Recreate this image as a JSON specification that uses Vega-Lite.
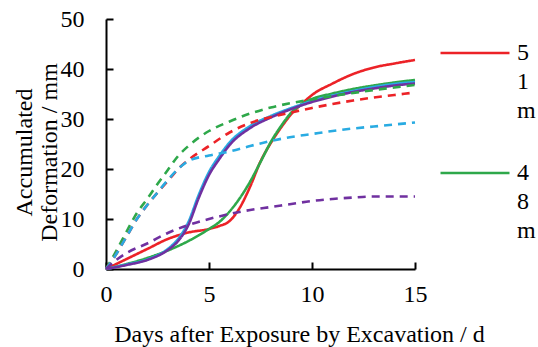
{
  "$schema": "https://vega.github.io/schema/vega-lite/v6.json",
  "width": 309,
  "height": 250,
  "autosize": {"type": "none"},
  "padding": {"left": 106, "top": 19, "right": 123, "bottom": 78},
  "background": "white",
  "config": {
    "view": {"stroke": null},
    "font": "Liberation Serif",
    "axis": {
      "labelFont": "Liberation Serif",
      "titleFont": "Liberation Serif",
      "labelFontSize": 24,
      "titleFontSize": 24,
      "labelColor": "#000000",
      "titleColor": "#000000",
      "titleFontWeight": "normal",
      "domainColor": "#000000",
      "domainWidth": 2,
      "tickColor": "#000000",
      "tickWidth": 2,
      "grid": false
    },
    "legend": {
      "labelFont": "Liberation Serif",
      "labelFontSize": 24,
      "labelColor": "#000000"
    }
  },
  "data": {
    "values": [
      {"x": 0, "y": 0, "s": "51m", "t": "solid"},
      {"x": 1, "y": 2.0, "s": "51m", "t": "solid"},
      {"x": 2, "y": 4.0, "s": "51m", "t": "solid"},
      {"x": 3, "y": 6.0, "s": "51m", "t": "solid"},
      {"x": 4, "y": 7.3, "s": "51m", "t": "solid"},
      {"x": 5, "y": 8.0, "s": "51m", "t": "solid"},
      {"x": 5.5, "y": 8.6, "s": "51m", "t": "solid"},
      {"x": 6, "y": 9.6, "s": "51m", "t": "solid"},
      {"x": 6.5, "y": 12.3, "s": "51m", "t": "solid"},
      {"x": 7, "y": 16.5, "s": "51m", "t": "solid"},
      {"x": 7.5, "y": 21.5, "s": "51m", "t": "solid"},
      {"x": 8, "y": 25.2, "s": "51m", "t": "solid"},
      {"x": 8.5, "y": 28.3, "s": "51m", "t": "solid"},
      {"x": 9, "y": 31.0, "s": "51m", "t": "solid"},
      {"x": 9.5, "y": 33.0, "s": "51m", "t": "solid"},
      {"x": 10, "y": 34.8, "s": "51m", "t": "solid"},
      {"x": 11, "y": 37.1, "s": "51m", "t": "solid"},
      {"x": 12, "y": 39.0, "s": "51m", "t": "solid"},
      {"x": 13, "y": 40.3, "s": "51m", "t": "solid"},
      {"x": 14, "y": 41.1, "s": "51m", "t": "solid"},
      {"x": 15, "y": 41.8, "s": "51m", "t": "solid"},

      {"x": 0, "y": 0, "s": "48m", "t": "solid"},
      {"x": 1, "y": 1.0, "s": "48m", "t": "solid"},
      {"x": 2, "y": 2.2, "s": "48m", "t": "solid"},
      {"x": 3, "y": 3.7, "s": "48m", "t": "solid"},
      {"x": 4, "y": 5.6, "s": "48m", "t": "solid"},
      {"x": 5, "y": 8.0, "s": "48m", "t": "solid"},
      {"x": 5.5, "y": 9.4, "s": "48m", "t": "solid"},
      {"x": 6, "y": 11.5, "s": "48m", "t": "solid"},
      {"x": 6.5, "y": 14.2, "s": "48m", "t": "solid"},
      {"x": 7, "y": 17.5, "s": "48m", "t": "solid"},
      {"x": 7.5, "y": 21.4, "s": "48m", "t": "solid"},
      {"x": 8, "y": 25.4, "s": "48m", "t": "solid"},
      {"x": 8.5, "y": 28.6, "s": "48m", "t": "solid"},
      {"x": 9, "y": 31.3, "s": "48m", "t": "solid"},
      {"x": 9.5, "y": 32.9, "s": "48m", "t": "solid"},
      {"x": 10, "y": 34.0, "s": "48m", "t": "solid"},
      {"x": 11, "y": 35.1, "s": "48m", "t": "solid"},
      {"x": 12, "y": 36.0, "s": "48m", "t": "solid"},
      {"x": 13, "y": 36.7, "s": "48m", "t": "solid"},
      {"x": 14, "y": 37.3, "s": "48m", "t": "solid"},
      {"x": 15, "y": 37.8, "s": "48m", "t": "solid"},

      {"x": 0, "y": 0, "s": "45m", "t": "solid"},
      {"x": 1, "y": 0.9, "s": "45m", "t": "solid"},
      {"x": 2, "y": 1.9, "s": "45m", "t": "solid"},
      {"x": 3, "y": 4.0, "s": "45m", "t": "solid"},
      {"x": 3.5, "y": 6.0, "s": "45m", "t": "solid"},
      {"x": 4, "y": 9.4, "s": "45m", "t": "solid"},
      {"x": 4.5, "y": 14.8, "s": "45m", "t": "solid"},
      {"x": 5, "y": 19.4, "s": "45m", "t": "solid"},
      {"x": 5.5, "y": 22.6, "s": "45m", "t": "solid"},
      {"x": 6, "y": 25.3, "s": "45m", "t": "solid"},
      {"x": 7, "y": 28.6, "s": "45m", "t": "solid"},
      {"x": 8, "y": 30.6, "s": "45m", "t": "solid"},
      {"x": 9, "y": 32.2, "s": "45m", "t": "solid"},
      {"x": 10, "y": 33.6, "s": "45m", "t": "solid"},
      {"x": 11, "y": 34.7, "s": "45m", "t": "solid"},
      {"x": 12, "y": 35.6, "s": "45m", "t": "solid"},
      {"x": 13, "y": 36.4, "s": "45m", "t": "solid"},
      {"x": 14, "y": 37.0, "s": "45m", "t": "solid"},
      {"x": 15, "y": 37.4, "s": "45m", "t": "solid"},

      {"x": 0, "y": 0, "s": "42m", "t": "solid"},
      {"x": 1, "y": 0.8, "s": "42m", "t": "solid"},
      {"x": 2, "y": 1.8, "s": "42m", "t": "solid"},
      {"x": 3, "y": 3.8, "s": "42m", "t": "solid"},
      {"x": 3.5, "y": 5.6, "s": "42m", "t": "solid"},
      {"x": 4, "y": 8.8, "s": "42m", "t": "solid"},
      {"x": 4.5, "y": 14.2, "s": "42m", "t": "solid"},
      {"x": 5, "y": 18.8, "s": "42m", "t": "solid"},
      {"x": 5.5, "y": 22.0, "s": "42m", "t": "solid"},
      {"x": 6, "y": 24.8, "s": "42m", "t": "solid"},
      {"x": 7, "y": 28.2, "s": "42m", "t": "solid"},
      {"x": 8, "y": 30.3, "s": "42m", "t": "solid"},
      {"x": 9, "y": 32.0, "s": "42m", "t": "solid"},
      {"x": 10, "y": 33.4, "s": "42m", "t": "solid"},
      {"x": 11, "y": 34.5, "s": "42m", "t": "solid"},
      {"x": 12, "y": 35.4, "s": "42m", "t": "solid"},
      {"x": 13, "y": 36.1, "s": "42m", "t": "solid"},
      {"x": 14, "y": 36.7, "s": "42m", "t": "solid"},
      {"x": 15, "y": 37.1, "s": "42m", "t": "solid"},

      {"x": 0, "y": 0, "s": "48m sim", "t": "dashed"},
      {"x": 0.5, "y": 3.6, "s": "48m sim", "t": "dashed"},
      {"x": 1, "y": 7.5, "s": "48m sim", "t": "dashed"},
      {"x": 1.5, "y": 11.2, "s": "48m sim", "t": "dashed"},
      {"x": 2, "y": 14.0, "s": "48m sim", "t": "dashed"},
      {"x": 2.5, "y": 17.0, "s": "48m sim", "t": "dashed"},
      {"x": 3, "y": 19.8, "s": "48m sim", "t": "dashed"},
      {"x": 3.5, "y": 22.6, "s": "48m sim", "t": "dashed"},
      {"x": 4, "y": 24.6, "s": "48m sim", "t": "dashed"},
      {"x": 5, "y": 27.6, "s": "48m sim", "t": "dashed"},
      {"x": 6, "y": 29.5, "s": "48m sim", "t": "dashed"},
      {"x": 7, "y": 31.1, "s": "48m sim", "t": "dashed"},
      {"x": 8, "y": 32.3, "s": "48m sim", "t": "dashed"},
      {"x": 9, "y": 33.2, "s": "48m sim", "t": "dashed"},
      {"x": 10, "y": 33.9, "s": "48m sim", "t": "dashed"},
      {"x": 11, "y": 34.6, "s": "48m sim", "t": "dashed"},
      {"x": 12, "y": 35.2, "s": "48m sim", "t": "dashed"},
      {"x": 13, "y": 35.8, "s": "48m sim", "t": "dashed"},
      {"x": 14, "y": 36.3, "s": "48m sim", "t": "dashed"},
      {"x": 15, "y": 36.8, "s": "48m sim", "t": "dashed"},

      {"x": 0, "y": 0, "s": "51m sim", "t": "dashed"},
      {"x": 0.5, "y": 3.0, "s": "51m sim", "t": "dashed"},
      {"x": 1, "y": 6.5, "s": "51m sim", "t": "dashed"},
      {"x": 1.5, "y": 10.0, "s": "51m sim", "t": "dashed"},
      {"x": 2, "y": 12.8, "s": "51m sim", "t": "dashed"},
      {"x": 2.5, "y": 15.3, "s": "51m sim", "t": "dashed"},
      {"x": 3, "y": 17.6, "s": "51m sim", "t": "dashed"},
      {"x": 3.5, "y": 20.0, "s": "51m sim", "t": "dashed"},
      {"x": 4, "y": 21.8, "s": "51m sim", "t": "dashed"},
      {"x": 5, "y": 24.6, "s": "51m sim", "t": "dashed"},
      {"x": 6, "y": 27.3, "s": "51m sim", "t": "dashed"},
      {"x": 7, "y": 29.2, "s": "51m sim", "t": "dashed"},
      {"x": 8, "y": 30.4, "s": "51m sim", "t": "dashed"},
      {"x": 9, "y": 31.3, "s": "51m sim", "t": "dashed"},
      {"x": 10, "y": 32.2, "s": "51m sim", "t": "dashed"},
      {"x": 11, "y": 33.0, "s": "51m sim", "t": "dashed"},
      {"x": 12, "y": 33.7, "s": "51m sim", "t": "dashed"},
      {"x": 13, "y": 34.3, "s": "51m sim", "t": "dashed"},
      {"x": 14, "y": 34.8, "s": "51m sim", "t": "dashed"},
      {"x": 15, "y": 35.3, "s": "51m sim", "t": "dashed"},

      {"x": 0, "y": 0, "s": "45m sim", "t": "dashed"},
      {"x": 0.5, "y": 3.0, "s": "45m sim", "t": "dashed"},
      {"x": 1, "y": 6.5, "s": "45m sim", "t": "dashed"},
      {"x": 1.5, "y": 10.0, "s": "45m sim", "t": "dashed"},
      {"x": 2, "y": 12.8, "s": "45m sim", "t": "dashed"},
      {"x": 2.5, "y": 15.3, "s": "45m sim", "t": "dashed"},
      {"x": 3, "y": 17.8, "s": "45m sim", "t": "dashed"},
      {"x": 3.5, "y": 20.0, "s": "45m sim", "t": "dashed"},
      {"x": 4, "y": 21.6, "s": "45m sim", "t": "dashed"},
      {"x": 5, "y": 22.7, "s": "45m sim", "t": "dashed"},
      {"x": 6, "y": 23.5, "s": "45m sim", "t": "dashed"},
      {"x": 7, "y": 24.6, "s": "45m sim", "t": "dashed"},
      {"x": 8, "y": 25.6, "s": "45m sim", "t": "dashed"},
      {"x": 9, "y": 26.4, "s": "45m sim", "t": "dashed"},
      {"x": 10, "y": 27.0, "s": "45m sim", "t": "dashed"},
      {"x": 11, "y": 27.6, "s": "45m sim", "t": "dashed"},
      {"x": 12, "y": 28.1, "s": "45m sim", "t": "dashed"},
      {"x": 13, "y": 28.5, "s": "45m sim", "t": "dashed"},
      {"x": 14, "y": 28.9, "s": "45m sim", "t": "dashed"},
      {"x": 15, "y": 29.3, "s": "45m sim", "t": "dashed"},

      {"x": 0, "y": 0, "s": "42m sim", "t": "dashed"},
      {"x": 0.5, "y": 1.8, "s": "42m sim", "t": "dashed"},
      {"x": 1, "y": 3.2, "s": "42m sim", "t": "dashed"},
      {"x": 2, "y": 5.1, "s": "42m sim", "t": "dashed"},
      {"x": 3, "y": 7.2, "s": "42m sim", "t": "dashed"},
      {"x": 4, "y": 8.8, "s": "42m sim", "t": "dashed"},
      {"x": 5, "y": 10.0, "s": "42m sim", "t": "dashed"},
      {"x": 6, "y": 11.0, "s": "42m sim", "t": "dashed"},
      {"x": 7, "y": 11.8, "s": "42m sim", "t": "dashed"},
      {"x": 8, "y": 12.4, "s": "42m sim", "t": "dashed"},
      {"x": 9, "y": 13.0, "s": "42m sim", "t": "dashed"},
      {"x": 10, "y": 13.6, "s": "42m sim", "t": "dashed"},
      {"x": 11, "y": 14.0, "s": "42m sim", "t": "dashed"},
      {"x": 12, "y": 14.3, "s": "42m sim", "t": "dashed"},
      {"x": 13, "y": 14.5, "s": "42m sim", "t": "dashed"},
      {"x": 14, "y": 14.5, "s": "42m sim", "t": "dashed"},
      {"x": 15, "y": 14.5, "s": "42m sim", "t": "dashed"}
    ]
  },
  "mark": {"type": "line", "interpolate": "monotone", "strokeWidth": 2.6},
  "encoding": {
    "x": {
      "field": "x",
      "type": "quantitative",
      "scale": {"domain": [0, 15], "nice": false},
      "axis": {
        "values": [0, 5, 10, 15],
        "title": "Days after Exposure by Excavation / d",
        "labelFont": "Liberation Serif",
        "titleFont": "Liberation Serif",
        "tickSize": -7,
        "labelPadding": 20,
        "titleX": 193,
        "titleY": 72,
        "titleBaseline": "alphabetic",
        "titleAlign": "center",
        "labelFlush": false
      }
    },
    "y": {
      "field": "y",
      "type": "quantitative",
      "scale": {"domain": [0, 50], "nice": false},
      "axis": {
        "values": [0, 10, 20, 30, 40, 50],
        "title": ["Accumulated", "Deformation / mm"],
        "labelFont": "Liberation Serif",
        "titleFont": "Liberation Serif",
        "tickSize": -7,
        "labelPadding": 29,
        "titleX": -82,
        "titleY": 133,
        "titleAngle": -90,
        "titleBaseline": "middle",
        "titleAlign": "center",
        "titleLineHeight": 25,
        "labelFlush": false
      }
    },
    "color": {
      "field": "s",
      "type": "nominal",
      "scale": {
        "domain": ["48m sim", "51m sim", "45m sim", "42m sim", "48m", "51m", "45m", "42m"],
        "range": ["#2EA84A", "#EC2227", "#29ABE2", "#7030A0", "#2EA84A", "#EC2227", "#29ABE2", "#7030A0"]
      },
      "legend": {
        "values": ["51m", "48m"],
        "title": null,
        "orient": "none",
        "legendX": 333,
        "legendY": -2,
        "padding": 0,
        "symbolType": "stroke",
        "symbolSize": 4761,
        "symbolStrokeWidth": 2.6,
        "symbolDash": [1, 0],
        "labelFont": "Liberation Serif",
        "labelExpr": "split(datum.label, '')",
        "labelBaseline": "middle",
        "labelOffset": 6,
        "rowPadding": 14,
        "encode": {
          "labels": {"update": {"lineHeight": {"value": 29}}}
        }
      }
    },
    "strokeDash": {
      "field": "t",
      "type": "nominal",
      "scale": {"domain": ["solid", "dashed"], "range": [[1, 0], [8, 6]]},
      "legend": null
    }
  }
}
